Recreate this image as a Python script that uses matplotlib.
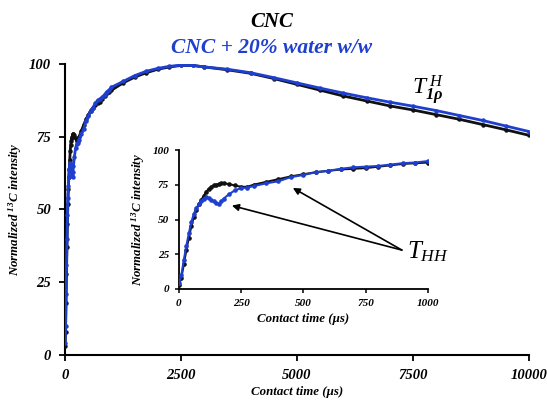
import matplotlib.pyplot as plt

plt.rcParams['font.family'] = ['Liberation Serif', 'DejaVu Serif']
plt.rcParams['mathtext.fontset'] = 'custom'
plt.rcParams['mathtext.rm'] = 'Liberation Serif:bold:italic'
plt.rcParams['mathtext.it'] = 'Liberation Serif:italic'
plt.rcParams['mathtext.bf'] = 'Liberation Serif:bold:italic'

BLACK = "#111111"
BLUE = "#1f40cf"

# inset region (0 - 1000 us)
t_short = [0, 10, 20, 30, 40, 50, 60, 70, 80, 90, 100, 110, 120, 130, 140, 150, 160, 170, 180,
           200, 225, 250, 275, 300, 350, 400, 450, 500, 550, 600, 650, 700, 750, 800, 850, 900, 950, 1000]
cnc_short = [3, 8, 18, 28, 37, 45, 52, 57, 61, 64, 67, 70, 72, 73.5, 74.5, 75, 75.5, 76, 76,
             75.5, 74.5, 73.5, 73.5, 75, 77, 79, 81, 82.5, 84, 85, 86, 86.5, 87, 88, 89, 90, 90.5, 91]
wet_short = [4, 10, 21, 31, 40, 48, 54, 58, 61, 63.5, 65, 66, 65.5, 64, 63, 62, 61, 63, 65,
             68, 71, 72.5, 73, 74, 76, 77.5, 80.5, 82, 84, 85, 86.5, 87.5, 88, 88.5, 89.5, 90.5, 91, 92]

# rest of the full curve
t_long = [1250, 1500, 1750, 2000, 2250, 2500, 2750, 3000, 3500, 4000, 4500, 5000, 5500,
          6000, 6500, 7000, 7500, 8000, 8500, 9000, 9500, 10000]
cnc_long = [93.5, 95.5, 97, 98.2, 99, 99.5, 99.5, 99, 98, 96.8, 95, 93, 91,
            89, 87.3, 85.6, 84.2, 82.6, 81, 79.2, 77.4, 75.5]
wet_long = [94, 96, 97.5, 98.5, 99.2, 99.6, 99.5, 99, 98.2, 97, 95.3, 93.5, 91.7,
            90, 88.4, 86.9, 85.5, 84, 82.3, 80.6, 78.7, 76.8]

t_all = t_short + t_long
cnc_all = cnc_short + cnc_long
wet_all = wet_short + wet_long

bi = dict(fontweight='bold', fontstyle='italic')

fig = plt.figure(figsize=(5.47, 4.0), dpi=100)

ax = fig.add_axes([0.119, 0.1125, 0.848, 0.7275])
ax.plot(t_all, cnc_all, color=BLACK, lw=2.0, marker='o', ms=2.2, zorder=3)
ax.plot(t_all, wet_all, color=BLUE, lw=2.0, marker='o', ms=2.2, zorder=4)
ax.set_xlim(0, 10000)
ax.set_ylim(0, 100)
ax.set_xticks([0, 2500, 5000, 7500, 10000])
ax.set_yticks([0, 25, 50, 75, 100])
for s in ['top', 'right']:
    ax.spines[s].set_visible(False)
for s in ['left', 'bottom']:
    ax.spines[s].set_linewidth(1.5)
ax.tick_params(direction='out', length=4, width=1.3, labelsize=10.5, pad=6)
for lab in ax.get_xticklabels() + ax.get_yticklabels():
    lab.set_fontweight('bold')
    lab.set_fontstyle('italic')
ax.set_xlabel('Contact time (µs)', fontsize=9.3, labelpad=3, **bi)
ax.set_ylabel('Normalized $^{13}$C intensity', fontsize=9.3, labelpad=4, **bi)
ax.text(7480, 91, r'$T_{\mathbf{1\rho}}^{\;H}$', fontsize=17, ha='left', va='center')

# inset
ins = fig.add_axes([0.327, 0.2775, 0.455, 0.3475])
ins.plot(t_short, cnc_short, color=BLACK, lw=1.5, marker='o', ms=2.3, zorder=3)
ins.plot(t_short, wet_short, color=BLUE, lw=1.5, marker='o', ms=2.3, zorder=4)
ins.set_xlim(0, 1000)
ins.set_ylim(0, 100)
ins.set_xticks([0, 250, 500, 750, 1000])
ins.set_yticks([0, 25, 50, 75, 100])
ins.patch.set_alpha(0)
for s in ['top', 'right']:
    ins.spines[s].set_visible(False)
for s in ['left', 'bottom']:
    ins.spines[s].set_linewidth(1.3)
ins.tick_params(direction='out', length=3, width=1.1, labelsize=8, pad=4)
for lab in ins.get_xticklabels() + ins.get_yticklabels():
    lab.set_fontweight('bold')
    lab.set_fontstyle('italic')
ins.set_xlabel('Contact time (µs)', fontsize=9.3, labelpad=4, **bi)
ins.set_ylabel('Normalized $^{13}$C intensity', fontsize=9.3, labelpad=4, **bi)

tail = (896, 28)
for head in [(213, 60), (458, 72.7)]:
    ins.annotate('', xy=head, xytext=tail,
                 arrowprops=dict(arrowstyle='-|>', color='black', lw=1.2,
                                 mutation_scale=10, shrinkA=0, shrinkB=0),
                 annotation_clip=False)
ins.text(918, 27, r'$T_{HH}$', fontsize=18, ha='left', va='center', clip_on=False)

fig.text(0.497, 0.945, 'CNC', ha='center', va='center', fontsize=15, color='black', **bi)
fig.text(0.497, 0.88, 'CNC + 20% water w/w', ha='center', va='center', fontsize=15.5,
         color=BLUE, **bi)

fig.savefig('out.png', dpi=100)
